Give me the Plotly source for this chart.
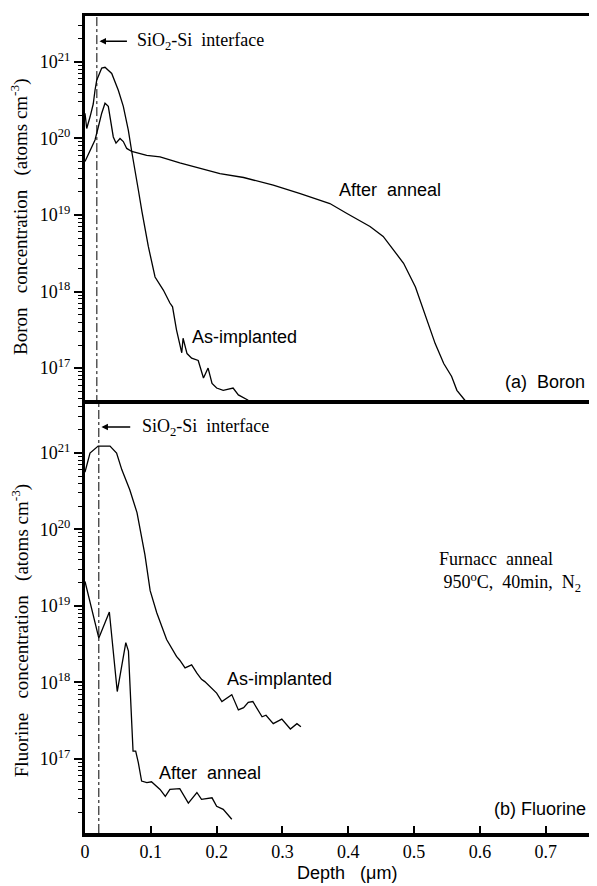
import plotly.graph_objects as go

# ---------------- data (depth in µm, concentration as log10 atoms/cm^3) ----------------
boron_asimpl_depth = [0, 0.0026, 0.0076, 0.0125, 0.0152, 0.0178, 0.0254, 0.0304, 0.0406, 0.0506,
                      0.0582, 0.0658, 0.0710, 0.0760, 0.0810, 0.0866, 0.0962, 0.1064, 0.119, 0.129,
                      0.133, 0.139, 0.147, 0.149, 0.155, 0.162, 0.172, 0.180, 0.187, 0.193,
                      0.200, 0.210, 0.225, 0.233, 0.248]
boron_asimpl_log = [20.33, 20.13, 20.28, 20.45, 20.63, 20.76, 20.92, 20.93, 20.85, 20.63,
                    20.42, 20.11, 19.83, 19.55, 19.33, 19.04, 18.59, 18.19, 18.02, 17.85,
                    17.80, 17.50, 17.20, 17.39, 17.19, 17.13, 17.10, 16.87, 17.00, 16.80,
                    16.74, 16.71, 16.74, 16.65, 16.58]

boron_anneal_depth = [0, 0.0076, 0.0152, 0.0202, 0.0254, 0.0304, 0.0354, 0.043, 0.0471, 0.0532,
                      0.0582, 0.0634, 0.071, 0.0938, 0.114, 0.144, 0.170, 0.205, 0.241, 0.286,
                      0.327, 0.372, 0.398, 0.433, 0.453, 0.469, 0.484, 0.502, 0.514, 0.532,
                      0.545, 0.557, 0.565, 0.579]
boron_anneal_log = [19.70, 19.85, 19.98, 20.15, 20.33, 20.46, 20.42, 20.02, 19.94, 20.00,
                    19.96, 19.87, 19.83, 19.78, 19.76, 19.68, 19.62, 19.54, 19.49, 19.39,
                    19.28, 19.15, 19.02, 18.85, 18.72, 18.54, 18.37, 18.06, 17.76, 17.32,
                    17.06, 16.89, 16.71, 16.56]

fluor_asimpl_depth = [0, 0.0076, 0.020, 0.038, 0.048, 0.056, 0.068, 0.079, 0.091, 0.099,
                      0.109, 0.124, 0.139, 0.144, 0.152, 0.162, 0.170, 0.177, 0.182, 0.193,
                      0.200, 0.208, 0.223, 0.233, 0.241, 0.248, 0.255, 0.269, 0.275, 0.286,
                      0.299, 0.312, 0.322, 0.328]
fluor_asimpl_log = [20.75, 21.0, 21.09, 21.09, 21.0, 20.78, 20.52, 20.22, 19.67, 19.2,
                    18.91, 18.56, 18.34, 18.29, 18.19, 18.23, 18.12, 18.04, 18.01, 17.91,
                    17.86, 17.75, 17.84, 17.64, 17.67, 17.74, 17.75, 17.55, 17.57, 17.46,
                    17.52, 17.39, 17.46, 17.42]

fluor_anneal_depth = [0, 0.021, 0.037, 0.049, 0.062, 0.066, 0.071, 0.073, 0.077, 0.081,
                      0.086, 0.094, 0.101, 0.114, 0.122, 0.129, 0.144, 0.157, 0.170, 0.177,
                      0.193, 0.200, 0.210, 0.223]
fluor_anneal_log = [19.32, 18.58, 18.92, 17.88, 18.52, 18.41, 17.47, 17.10, 17.10, 16.95,
                    16.71, 16.69, 16.70, 16.60, 16.51, 16.60, 16.61, 16.42, 16.56, 16.47,
                    16.49, 16.38, 16.34, 16.21]

x_tick_vals = [0, 0.1, 0.2, 0.3, 0.4, 0.5, 0.6, 0.7]
x_tick_text = ["0", "0.1", "0.2", "0.3", "0.4", "0.5", "0.6", "0.7"]
y_tick_exps = [17, 18, 19, 20, 21]
interface_depth_top = 0.018
interface_depth_bottom = 0.021

SERIF = "Liberation Serif"
SANS = "Liberation Sans"
NB = "\u00a0"

fig = go.Figure()
line_style = dict(color="black", width=1.3)
for d, lg, xa, ya in [
    (boron_asimpl_depth, boron_asimpl_log, "x", "y"),
    (boron_anneal_depth, boron_anneal_log, "x", "y"),
    (fluor_asimpl_depth, fluor_asimpl_log, "x2", "y2"),
    (fluor_anneal_depth, fluor_anneal_log, "x2", "y2"),
]:
    fig.add_trace(go.Scatter(x=d, y=[10 ** v for v in lg], mode="lines",
                             line=line_style, xaxis=xa, yaxis=ya, hoverinfo="skip"))

y_tick_vals = [10.0 ** e for e in y_tick_exps]
y_tick_text = ["10<sup>%d</sup>" % e for e in y_tick_exps]

yax_common = dict(type="log", showline=True, linewidth=3, linecolor="black",
                  showgrid=False, zeroline=False, ticks="outside", ticklen=8,
                  tickwidth=1.5, tickcolor="black", tickvals=y_tick_vals,
                  ticktext=y_tick_text, tickfont=dict(family=SERIF, size=18, color="black"),
                  minor=dict(ticks="outside", ticklen=4, tickwidth=1, tickcolor="black",
                             dtick="D1", showgrid=False))
# page body has an 8px default margin: plot area sits at x 85..605, y 16..833 on the page
xax_common = dict(range=[0, 0.790], showline=True, linecolor="black",
                  showgrid=False, zeroline=False)

fig.update_layout(
    width=597, height=886,
    margin=dict(l=77, r=0, t=8, b=61),
    paper_bgcolor="white", plot_bgcolor="white",
    showlegend=False,
    xaxis=dict(domain=[0, 1], anchor="y", side="top", mirror=False, linewidth=3,
               showticklabels=False, ticks="", **xax_common),
    xaxis2=dict(domain=[0, 1], anchor="y2", mirror=True, linewidth=3.5, ticks="inside", ticklen=7,
                tickwidth=1.5, tickcolor="black", tickvals=x_tick_vals, ticktext=x_tick_text,
                tickfont=dict(family=SERIF, size=18, color="black"), **xax_common),
    yaxis=dict(domain=[0.525, 1], anchor="x", range=[16.53, 21.6], **yax_common),
    yaxis2=dict(domain=[0, 0.525], anchor="x2", range=[16.03, 21.64], **yax_common),
)

# interface lines
fig.add_shape(type="line", xref="x", yref="y domain", x0=interface_depth_top, x1=interface_depth_top,
              y0=0, y1=1, line=dict(color="black", width=1, dash="dashdot"))
fig.add_shape(type="line", xref="x2", yref="y2 domain", x0=interface_depth_bottom, x1=interface_depth_bottom,
              y0=0, y1=1, line=dict(color="black", width=1, dash="dashdot"))

# arrows
fig.add_annotation(x=0.022, y=21.27, xref="x", yref="y", ax=0.066, ay=21.27, axref="x", ayref="y",
                   text="", showarrow=True, arrowhead=2, arrowsize=1, arrowwidth=1.3, arrowcolor="black")
fig.add_annotation(x=0.025, y=21.34, xref="x2", yref="y2", ax=0.071, ay=21.34, axref="x2", ayref="y2",
                   text="", showarrow=True, arrowhead=2, arrowsize=1, arrowwidth=1.3, arrowcolor="black")

def label(text, x, y, xr, yr, family, size=18):
    fig.add_annotation(text=text, x=x, y=y, xref=xr, yref=yr, showarrow=False,
                       xanchor="left", yanchor="middle", align="left",
                       font=dict(family=family, size=size, color="black"))

label("SiO<sub>2</sub>-Si" + NB * 2 + "interface", 0.076, 21.27, "x", "y", SERIF, 18)
label("SiO<sub>2</sub>-Si" + NB * 2 + "interface", 0.0836, 21.34, "x2", "y2", SERIF, 18)
label("After" + NB * 2 + "anneal", 0.383, 19.33, "x", "y", SANS, 18)
label("As-implanted", 0.160, 17.41, "x", "y", SANS, 18)
label("(a)" + NB * 2 + "Boron", 0.635, 16.82, "x", "y", SANS, 18)
label("Furnacc" + NB * 2 + "anneal<br>" + NB + "950<sup>o</sup>C," + NB * 2 + "40min," + NB * 2 + "N<sub>2</sub>",
      0.535, 19.45, "x2", "y2", SERIF, 18)
label("As-implanted", 0.213, 18.04, "x2", "y2", SANS, 18)
label("After" + NB * 2 + "anneal", 0.110, 16.82, "x2", "y2", SANS, 18)
label("(b)" + NB + "Fluorine", 0.618, 16.34, "x2", "y2", SANS, 18)

# axis titles
fig.add_annotation(text="Boron" + NB * 3 + "concentration" + NB * 3 + "(atoms" + NB + "cm<sup>-3</sup>)",
                   x=-0.125, y=0.754, xref="paper", yref="paper", textangle=-90, showarrow=False,
                   xanchor="center", yanchor="middle", font=dict(family=SERIF, size=19, color="black"))
fig.add_annotation(text="Fluorine" + NB * 3 + "concentration" + NB * 3 + "(atoms" + NB + "cm<sup>-3</sup>)",
                   x=-0.125, y=0.247, xref="paper", yref="paper", textangle=-90, showarrow=False,
                   xanchor="center", yanchor="middle", font=dict(family=SERIF, size=19, color="black"))
fig.add_annotation(text="Depth" + NB * 3 + "(\u03bcm)", x=0.504, y=-0.049, xref="paper", yref="paper",
                   showarrow=False, xanchor="center", yanchor="middle",
                   font=dict(family=SANS, size=18, color="black"))

fig.write_html("out.html")
